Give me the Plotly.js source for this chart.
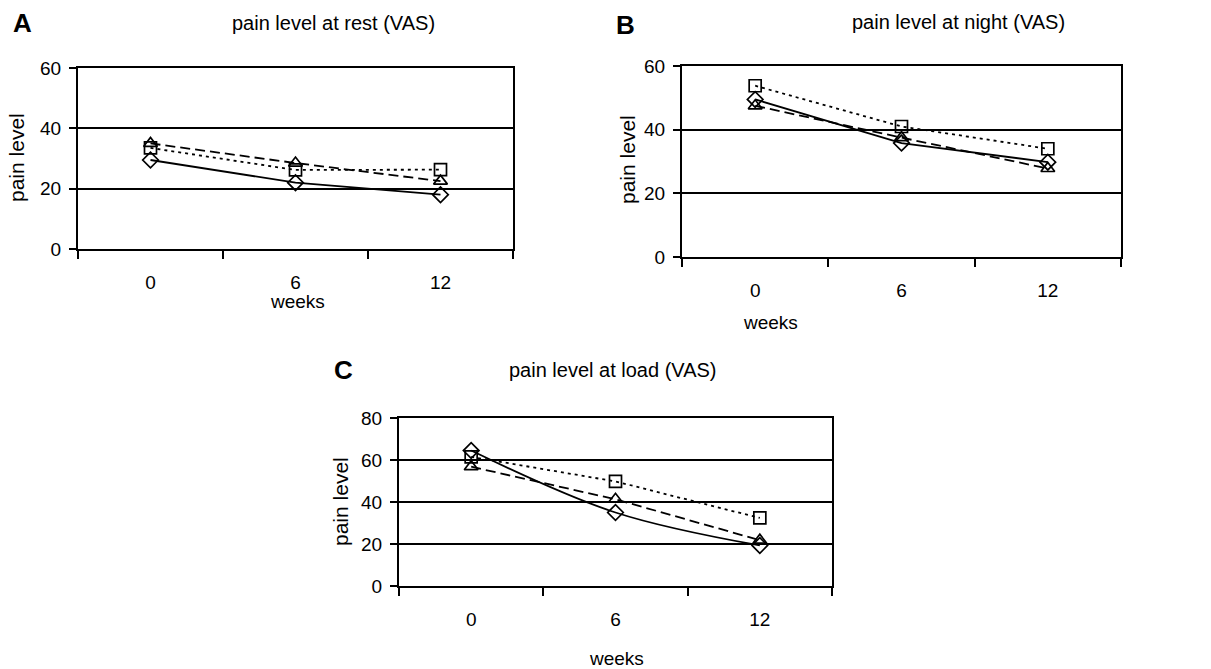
<!DOCTYPE html>
<html>
<head>
<meta charset="utf-8">
<script src="https://cdn.plot.ly/plotly-3.0.1.min.js"></script>
<style>
html,body{margin:0;padding:0;background:#fff;}
#chart{width:1211px;height:669px;}
</style>
</head>
<body>
<div id="chart"></div>
<script>
// ---- data ----
const weeks = ['0', '6', '12'];

const restDiamond  = [29.5, 22.0, 18.0];
const restSquare   = [33.5, 26.2, 26.3];
const restTriangle = [35.0, 28.5, 22.5];

const nightDiamond  = [49.5, 35.8, 29.8];
const nightSquare   = [53.8, 41.0, 34.0];
const nightTriangle = [47.5, 37.5, 27.8];

const loadDiamond  = [64.5, 35.0, 19.3];
const loadSquare   = [61.5, 49.8, 32.4];
const loadTriangle = [56.8, 41.3, 21.8];

const panelLetters = ['A', 'B', 'C'];
const panelTitles = ['pain level at rest (VAS)', 'pain level at night (VAS)', 'pain level at load (VAS)'];
const xTitle = 'weeks';
const yTitle = 'pain level';

// ---- helpers ----
const W = 1211, H = 669;
const px = v => v / W;
const py = v => 1 - v / H;
const FONT = 'Liberation Sans, Arial, sans-serif';

function series(x, y, xa, ya, symbol, dash, spline) {
  return {
    x: x, y: y, xaxis: xa, yaxis: ya, type: 'scatter', mode: 'lines+markers',
    showlegend: false, cliponaxis: false,
    line: {color: '#000', width: 1.8, dash: dash, shape: spline ? 'spline' : 'linear', smoothing: 1},
    marker: {symbol: symbol, size: 12, color: '#000', line: {color: '#000', width: 1.7}}
  };
}

const data = [
  series(weeks, restDiamond, 'x', 'y', 'diamond-open', 'solid', false),
  series(weeks, restSquare, 'x', 'y', 'square-open', '3px,4px', false),
  series(weeks, restTriangle, 'x', 'y', 'triangle-up-open', '10px,5px', false),

  series(weeks, nightDiamond, 'x2', 'y2', 'diamond-open', 'solid', false),
  series(weeks, nightSquare, 'x2', 'y2', 'square-open', '3px,4px', false),
  series(weeks, nightTriangle, 'x2', 'y2', 'triangle-up-open', '10px,5px', false),

  series(weeks, loadDiamond, 'x3', 'y3', 'diamond-open', 'solid', true),
  series(weeks, loadSquare, 'x3', 'y3', 'square-open', '3px,4px', false),
  series(weeks, loadTriangle, 'x3', 'y3', 'triangle-up-open', '10px,5px', false)
];

function xAxis(domain, anchor) {
  return {
    domain: domain, anchor: anchor, type: 'category', range: [-0.5, 2.5],
    showline: true, linecolor: '#000', linewidth: 2, mirror: true,
    ticks: 'outside', tickson: 'boundaries', ticklen: 8, tickwidth: 2, tickcolor: '#000',
    showgrid: false, zeroline: false,
    tickfont: {family: FONT, size: 19, color: '#000'},
    ticklabelstandoff: 15
  };
}
function yAxis(domain, anchor, max) {
  return {
    domain: domain, anchor: anchor, range: [0, max], dtick: 20, tick0: 0,
    showline: true, linecolor: '#000', linewidth: 2, mirror: true,
    ticks: 'outside', ticklen: 7, tickwidth: 2, tickcolor: '#000',
    showgrid: true, gridcolor: '#000', gridwidth: 2, zeroline: false,
    tickfont: {family: FONT, size: 19, color: '#000'},
    ticklabelstandoff: 4
  };
}

const layout = {
  width: W, height: H,
  margin: {l: 0, r: 0, t: 0, b: 0},
  paper_bgcolor: '#fff', plot_bgcolor: '#fff',
  showlegend: false,
  xaxis:  xAxis([px(78), px(513)], 'y'),
  yaxis:  yAxis([py(249), py(68)], 'x', 60),
  xaxis2: xAxis([px(682), px(1121)], 'y2'),
  yaxis2: yAxis([py(257), py(66)], 'x2', 60),
  xaxis3: xAxis([px(399), px(832)], 'y3'),
  yaxis3: yAxis([py(586), py(418)], 'x3', 80),
  annotations: []
};

function txt(text, x, y, size, opts) {
  return Object.assign({
    text: text, x: px(x), y: py(y), xref: 'paper', yref: 'paper',
    xanchor: 'center', yanchor: 'middle', showarrow: false,
    font: {family: FONT, size: size, color: '#000'}
  }, opts || {});
}

const letterPos = [[22, 23], [625, 25], [343, 370]];
const titlePos = [[333, 23], [958, 22], [613, 370]];
const xTitlePos = [[297, 301], [770, 322], [616, 658]];
const yTitlePos = [[17, 158], [627, 160], [340, 502]];

for (let i = 0; i < 3; i++) {
  layout.annotations.push(txt('<b>' + panelLetters[i] + '</b>', letterPos[i][0], letterPos[i][1], 26));
  layout.annotations.push(txt(panelTitles[i], titlePos[i][0], titlePos[i][1], 20));
  layout.annotations.push(txt(xTitle, xTitlePos[i][0], xTitlePos[i][1], 19));
  layout.annotations.push(txt(yTitle, yTitlePos[i][0], yTitlePos[i][1], 21, {textangle: -90}));
}

Plotly.newPlot('chart', data, layout, {staticPlot: true, displayModeBar: false});
</script>
</body>
</html>
